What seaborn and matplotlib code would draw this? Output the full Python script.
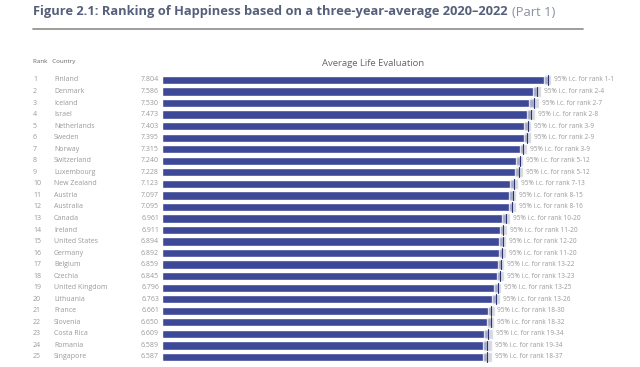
import matplotlib
matplotlib.use("Agg")
import matplotlib.pyplot as plt
import seaborn as sns
import pandas as pd

# Data (World Happiness Report 2023, Figure 2.1 part 1)
ranks = list(range(1, 26))
countries = ["Finland", "Denmark", "Iceland", "Israel", "Netherlands", "Sweden",
             "Norway", "Switzerland", "Luxembourg", "New Zealand", "Austria",
             "Australia", "Canada", "Ireland", "United States", "Germany",
             "Belgium", "Czechia", "United Kingdom", "Lithuania", "France",
             "Slovenia", "Costa Rica", "Romania", "Singapore"]
scores = [7.804, 7.586, 7.530, 7.473, 7.403, 7.395, 7.315, 7.240, 7.228, 7.123,
          7.097, 7.095, 6.961, 6.911, 6.894, 6.892, 6.859, 6.845, 6.796, 6.763,
          6.661, 6.650, 6.609, 6.589, 6.587]
ci_low = [7.733, 7.506, 7.428, 7.397, 7.336, 7.323, 7.243, 7.168, 7.150, 7.048,
          7.026, 7.024, 6.881, 6.837, 6.822, 6.819, 6.792, 6.773, 6.725, 6.690,
          6.591, 6.581, 6.525, 6.497, 6.491]
ci_high = [7.875, 7.667, 7.633, 7.549, 7.470, 7.467, 7.387, 7.312, 7.308, 7.198,
           7.168, 7.166, 7.041, 6.985, 6.966, 6.965, 6.926, 6.917, 6.867, 6.836,
           6.731, 6.719, 6.693, 6.681, 6.683]
rank_ranges = ["1-1", "2-4", "2-7", "2-8", "3-9", "2-9", "3-9", "5-12", "5-12",
               "7-13", "8-15", "8-16", "10-20", "11-20", "12-20", "11-20",
               "13-22", "13-23", "13-25", "13-26", "18-30", "18-32", "19-34",
               "19-34", "18-37"]

df = pd.DataFrame({"country": countries, "score": scores})

sns.set_theme(style="white")
plt.rcParams["font.family"] = ["Open Sans", "DejaVu Sans"]

bar_color = "#3d4896"
text_grey = "#9a9a9a"
title_color = "#56607a"

fig = plt.figure(figsize=(6.4, 3.67), dpi=100)
ax = fig.add_axes([162 / 640, 0.0, 478 / 640, (367 - 74.2) / 367])

sns.barplot(data=df, x="score", y="country", orient="h", color=bar_color,
            saturation=1, width=0.72, ax=ax)

# confidence band + whisker at the bar end
for i in range(len(countries)):
    ax.barh(i, ci_high[i] - ci_low[i], left=ci_low[i], height=0.9,
            color="#c9cbd8", alpha=0.75, zorder=3)
    ax.plot([scores[i], scores[i]], [i - 0.42, i + 0.42], color="#2c3470",
            lw=0.8, zorder=4)
    ax.text(ci_high[i] + 0.06, i, f"95% i.c. for rank {rank_ranges[i]}",
            fontsize=4.7, color=text_grey, va="center", ha="left")

tr = ax.get_yaxis_transform()
for i in range(len(countries)):
    ax.text(-(162 - 33) / 478, i, str(ranks[i]), transform=tr, fontsize=5,
            color=text_grey, va="center", ha="left", clip_on=False)
    ax.text(-(162 - 54) / 478, i, countries[i], transform=tr, fontsize=5,
            color=text_grey, va="center", ha="left", clip_on=False)
    ax.text(-3 / 478, i, f"{scores[i]:.3f}", transform=tr, fontsize=5,
            color=text_grey, va="center", ha="right", clip_on=False)

ax.set_xlim(0, 478 / 49.4)
ax.set_ylim(24.87, -0.5)
ax.set_xlabel("")
ax.set_ylabel("")
ax.set_xticks([])
ax.set_yticks([])
sns.despine(ax=ax, left=True, bottom=True)

# header texts
title = fig.text(33 / 640, 1 - 12 / 367,
                 "Figure 2.1: Ranking of Happiness based on a three-year-average 2020\u20132022",
                 fontsize=9.3, fontweight="bold", color=title_color, va="center", ha="left")
fig.canvas.draw()
bb = title.get_window_extent()
fig.text((bb.x1 + 4) / 640, 1 - 12 / 367, "(Part 1)", fontsize=9.3, color="#8a8fa0",
         va="center", ha="left")
fig.add_artist(plt.Line2D([33 / 640, 583 / 640], [1 - 29 / 367, 1 - 29 / 367],
                          color="#8c8c8c", lw=1.2))
fig.text(33 / 640, 1 - 62 / 367, "Rank   Country", fontsize=4.5, color="#666666",
         va="center", ha="left")
fig.text(373 / 640, 1 - 64 / 367, "Average Life Evaluation", fontsize=6.8,
         color="#666666", va="center", ha="center")

fig.savefig("out.png", dpi=100, facecolor="white")
